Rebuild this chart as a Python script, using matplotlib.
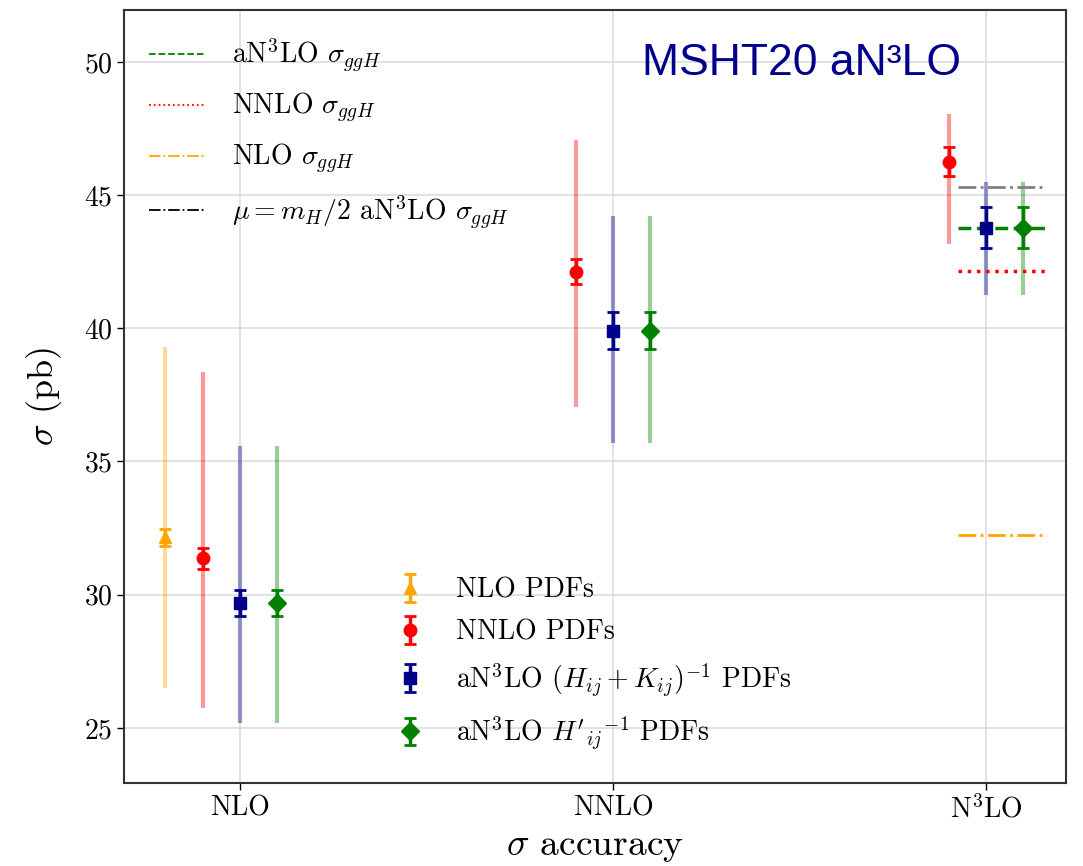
import numpy as np
import matplotlib
matplotlib.use('Agg')
import matplotlib.pyplot as plt
from matplotlib.lines import Line2D

plt.rcParams['font.family'] = 'serif'
plt.rcParams['font.serif'] = ['cmr10']
plt.rcParams['mathtext.fontset'] = 'cm'
plt.rcParams['axes.formatter.use_mathtext'] = True

# x categories (perturbative order of the cross section)
orders = ['NLO', 'NNLO', 'N$^3$LO']

# central values, PDF uncertainty, and scale band (low / high) per PDF set
nlo_cen = [32.15]
nlo_err = [0.33]
nlo_lo = [26.5]
nlo_hi = [39.3]

nnlo_cen = [31.36, 42.12, 46.26]
nnlo_err = [0.38, 0.47, 0.55]
nnlo_lo = [25.75, 37.03, 43.16]
nnlo_hi = [38.37, 47.07, 48.05]

an3lo_cen = [29.69, 39.91, 43.78]
an3lo_err = [0.50, 0.69, 0.77]
an3lo_lo = [25.19, 35.71, 41.25]
an3lo_hi = [35.60, 44.22, 45.51]

an3lo_hp_cen = [29.69, 39.91, 43.78]
an3lo_hp_err = [0.50, 0.69, 0.77]
an3lo_hp_lo = [25.19, 35.71, 41.25]
an3lo_hp_hi = [35.60, 44.22, 45.51]

# reference lines at N3LO
ref_an3lo = 43.78
ref_nnlo = 42.15
ref_nlo = 32.24
ref_half = 45.32

fig = plt.figure(figsize=(10.83, 8.66), dpi=100)
ax = fig.add_axes([0.1145, 0.0958, 0.87, 0.8927])

x = np.arange(len(orders))


def draw(xpos, cen, err, lo, hi, color, marker, label, ms=9):
    cen = np.array(cen)
    band = [cen - np.array(lo), np.array(hi) - cen]
    ax.errorbar(xpos, cen, yerr=band, fmt='none', ecolor=color, alpha=0.4,
                elinewidth=3)
    return ax.errorbar(xpos, cen, yerr=err, fmt=marker, color=color, ms=ms,
                       elinewidth=2.5, capsize=4, capthick=2, label=label)


h1 = draw(x[:1] - 0.2, nlo_cen, nlo_err, nlo_lo, nlo_hi, 'orange', '^',
          'NLO PDFs', ms=8)
h2 = draw(x - 0.1, nnlo_cen, nnlo_err, nnlo_lo, nnlo_hi, 'red', 'o',
          'NNLO PDFs')
h3 = draw(x, an3lo_cen, an3lo_err, an3lo_lo, an3lo_hi, 'darkblue', 's',
          r'aN$^3$LO $(H_{ij}+K_{ij})^{-1}$ PDFs', ms=8)
h4 = draw(x + 0.1, an3lo_hp_cen, an3lo_hp_err, an3lo_hp_lo, an3lo_hp_hi,
          'green', 'D', r"aN$^3$LO ${H'_{ij}}^{-1}$ PDFs", ms=9)

x0, x1 = 1.925, 2.16
ax.hlines(ref_half, x0, x1, color='grey', ls='-.', lw=2)
ax.hlines(ref_an3lo, x0, x1, color='green', ls='--', lw=2.5)
ax.hlines(ref_nnlo, x0, x1, color='red', ls=':', lw=2.5)
ax.hlines(ref_nlo, x0, x1, color='orange', ls='-.', lw=2)

ax.set_xticks(x)
ax.set_xticklabels(orders)
ax.set_yticks([25, 30, 35, 40, 45, 50])
ax.set_xlim(-0.311, 2.215)
ax.set_ylim(22.93, 51.95)
ax.tick_params(labelsize=20, length=5, width=1)
ax.grid(True, color='#dddddd', lw=1.2)
ax.set_axisbelow(True)
for s in ax.spines.values():
    s.set_linewidth(1.5)
    s.set_color('#333333')

ax.set_xlabel(r'$\sigma$ accuracy', fontsize=27, labelpad=5)
ax.set_ylabel(r'$\sigma$ (pb)', fontsize=26, labelpad=14)

lines = [Line2D([], [], color='green', ls='--', lw=1.3),
         Line2D([], [], color='red', ls=':', lw=1.3),
         Line2D([], [], color='orange', ls='-.', lw=1.3),
         Line2D([], [], color='black', ls='-.', lw=1.3)]
line_labels = [r'aN$^3$LO $\sigma_{ggH}$', r'NNLO $\sigma_{ggH}$',
               r'NLO $\sigma_{ggH}$', r'$\mu = m_H/2$ aN$^3$LO $\sigma_{ggH}$']
leg1 = ax.legend(lines, line_labels, loc='upper left', frameon=False,
                 fontsize=20, bbox_to_anchor=(0.0, 0.998), labelspacing=0.6,
                 handlelength=2.0, handletextpad=1.0)
ax.add_artist(leg1)

ax.legend([h1, h2, h3, h4], [h.get_label() for h in [h1, h2, h3, h4]],
          loc='lower left', frameon=False, fontsize=20,
          bbox_to_anchor=(0.255, 0.008), labelspacing=0.55,
          handlelength=1.5, handletextpad=0.9)

ax.text(0.55, 0.916, 'MSHT20 aN³LO', transform=ax.transAxes, fontsize=32,
        color='darkblue', family='Liberation Sans')

fig.savefig('out.png', dpi=100)
